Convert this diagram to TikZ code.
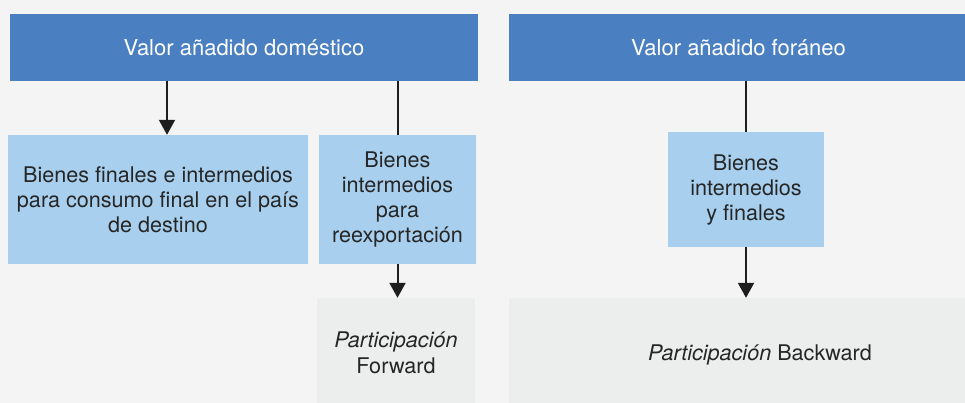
\documentclass[tikz,border=0pt]{standalone}
\usepackage{fontspec}
\setmainfont{TeX Gyre Heros}
\usetikzlibrary{positioning,arrows.meta}

\definecolor{bgcol}{HTML}{F4F4F4}
\definecolor{valblue}{HTML}{4A80C1}
\definecolor{goodsblue}{HTML}{A8D0EE}
\definecolor{partgray}{HTML}{ECEDED}
\definecolor{txtgray}{HTML}{262626}
\definecolor{linegray}{HTML}{1E1E1E}

\tikzset{
  valbox/.style={fill=valblue,text=white,inner sep=0pt,minimum height=67pt,
    font=\fontsize{22}{25}\selectfont},
  goodsbox/.style={fill=goodsblue,text=txtgray,inner sep=0pt,align=center,
    font=\fontsize{21.6}{25}\selectfont},
  partbox/.style={fill=partgray,text=txtgray,inner sep=0pt,align=center,
    font=\fontsize{21.6}{26}\selectfont},
  link/.style={draw=linegray,line width=2pt},
  arr/.style={link,-{Triangle[width=16pt,length=15pt]}}
}

\begin{document}
\begin{tikzpicture}[x=1pt,y=-1pt]
  \useasboundingbox (0,0) rectangle (965,403);
  \clip (0,0) rectangle (965,403);
  \fill[bgcol] (0,0) rectangle (965,403);

  % cabeceras
  \node[valbox,minimum width=468pt](dom) at (244,47.5) {Valor añadido doméstico};
  \node[valbox,minimum width=459pt](for) at (738.5,47.5) {Valor añadido foráneo};

  % bienes
  \node[goodsbox,minimum width=300pt,minimum height=129pt](fin) at (158,199.5)
    {Bienes finales e intermedios\\para consumo final en el país\\de destino};
  \node[goodsbox,minimum width=157pt,minimum height=129pt](reex) at (397.5,199.5)
    {Bienes\\intermedios\\para\\reexportación};
  \node[goodsbox,minimum width=156pt,minimum height=115pt](inter) at (746,189.5)
    {Bienes\\intermedios\\y finales};

  % participacion
  \node[partbox,minimum width=158pt,minimum height=110pt](fwd) at (396,353)
    {\textit{Participación}\\Forward};
  \node[partbox,minimum width=502pt,minimum height=114pt](bwd) at (760,355)
    {\textit{Participación} Backward};

  \draw[arr] ([xshift=9pt]fin.north |- dom.south) -- ([xshift=9pt]fin.north);
  \draw[link] (reex.north |- dom.south) -- (reex.north);
  \draw[arr] (reex.south) -- (reex.south |- fwd.north);
  \draw[link] (inter.north |- for.south) -- (inter.north);
  \draw[arr] (inter.south) -- (inter.south |- bwd.north);
\end{tikzpicture}
\end{document}
